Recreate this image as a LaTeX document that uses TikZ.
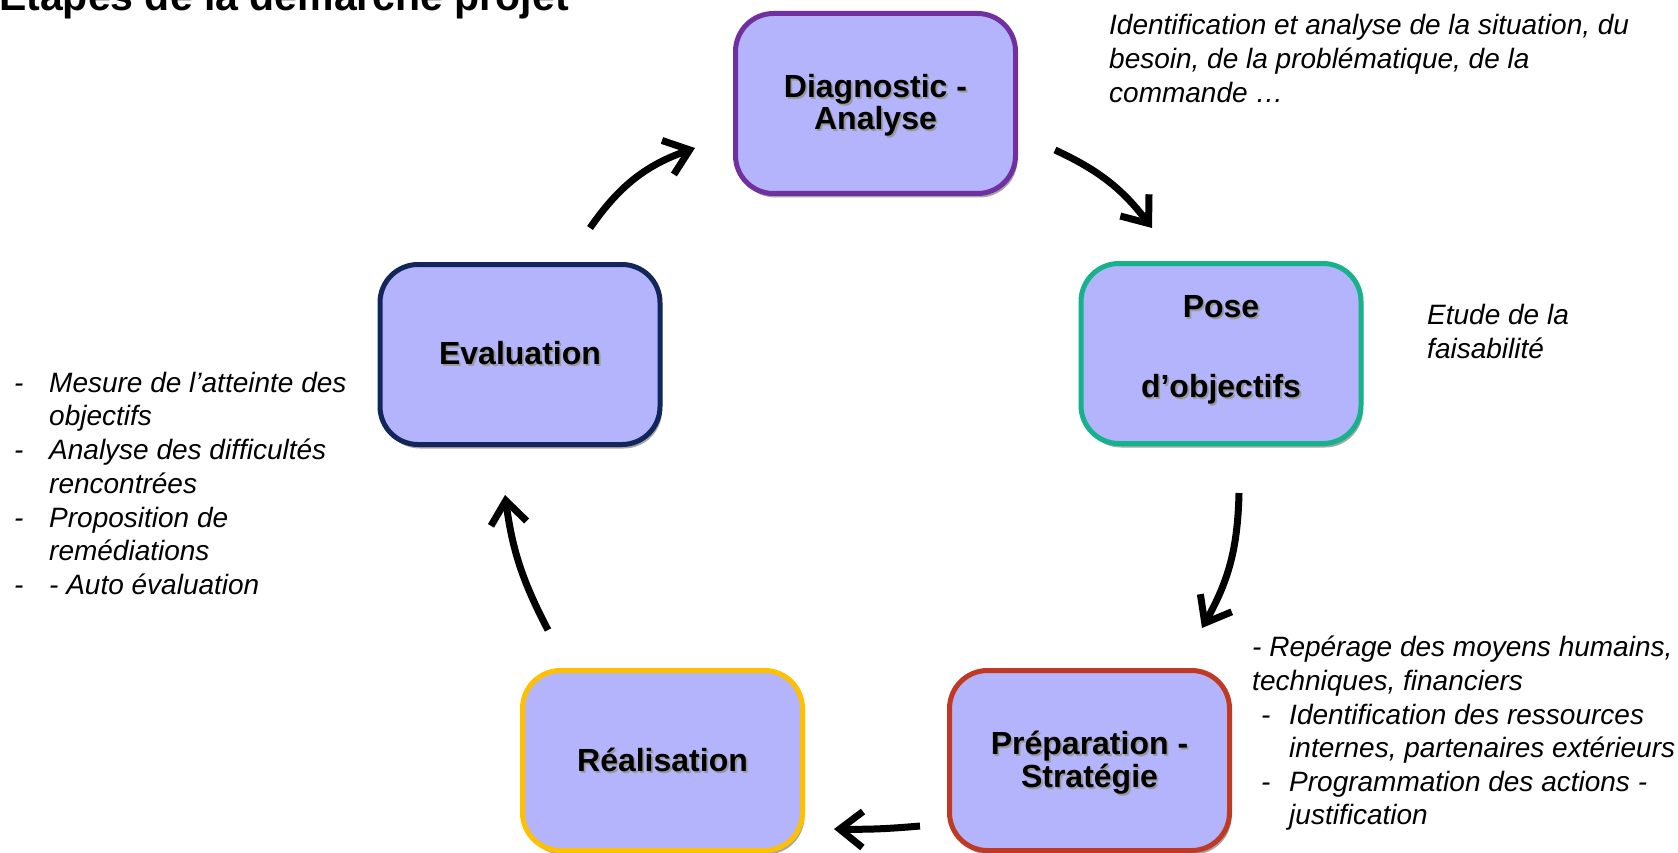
\documentclass[tikz,border=0pt]{standalone}
\usepackage{fontspec}
\setmainfont{Liberation Sans}
\usetikzlibrary{arrows.meta,shadows}
\definecolor{boxfill}{RGB}{180,180,252}
\definecolor{cdiag}{RGB}{112,48,160}
\definecolor{cpose}{RGB}{22,178,140}
\definecolor{ceval}{RGB}{18,38,92}
\definecolor{creal}{RGB}{255,192,0}
\definecolor{cprep}{RGB}{192,57,34}
\newcommand\shtxt[1]{\leavevmode\rlap{\kern1.8pt\raisebox{-2pt}{\textcolor{black!40}{#1}}}#1}
\begin{document}
\begin{tikzpicture}[x=1pt,y=-1pt,
  stepbox/.style={rectangle, rounded corners=38pt, fill=boxfill, line width=5pt,
    minimum width=280pt, minimum height=180pt, inner sep=0pt,
    drop shadow={shadow xshift=2pt, shadow yshift=-4pt, opacity=0.35, fill=black}},
  boxlbl/.style={font=\fontsize{32}{32}\selectfont\bfseries, align=center, inner sep=0pt},
  note/.style={font=\fontsize{28}{34}\selectfont\itshape, anchor=base west, inner sep=0pt},
  titl/.style={font=\fontsize{41}{41}\selectfont\bfseries, anchor=base west, inner sep=0pt},
  cyc/.style={line width=7pt, -{Straight Barb[length=23pt,width=36pt]}},
]
\useasboundingbox (0,0) rectangle (1678,853);
\fill[white] (0,0) rectangle (1678,853);

% title
\node[titl] (title) at (-1,11) {Etapes de la démarche projet};

% boxes
\node[stepbox, draw=cdiag] (diag) at (875.5,103.5) {};
\node[stepbox, draw=cpose] (pose) at (1221,353.5) {};
\node[stepbox, draw=ceval] (eval) at (520,354.5) {};
\node[stepbox, draw=creal] (real) at (662.5,760.5) {};
\node[stepbox, draw=cprep] (prep) at (1089.5,760.5) {};

% box labels
\node[boxlbl] (ldiag) at ([yshift=-3pt]diag.center) {\shtxt{Diagnostic -}\\\shtxt{Analyse}};
\node[boxlbl] (lpose) at ([yshift=3pt]pose.center) {\shtxt{Pose}\\[48pt]\shtxt{d’objectifs}};
\node[boxlbl] (leval) at (eval.center) {\shtxt{Evaluation}};
\node[boxlbl] (lreal) at (real.center) {\shtxt{Réalisation}};
\node[boxlbl] (lprep) at ([yshift=-3pt]prep.center) {\shtxt{Préparation -}\\\shtxt{Stratégie}};

% notes top right
\node[note] (n1a) at (1109,35) {Identification et analyse de la situation, du};
\node[note] (n1b) at (1109,69) {besoin, de la problématique, de la};
\node[note] (n1c) at (1109,103) {commande …};

% note pose
\node[note] (n2a) at (1427,324) {Etude de la};
\node[note] (n2b) at (1427,358) {faisabilité};

% notes left
\node[note] (d3a) at (14,392) {-};
\node[note] (n3a) at (49,392) {Mesure de l’atteinte des};
\node[note] (n3b) at (49,425.5) {objectifs};
\node[note] (d3c) at (14,459.5) {-};
\node[note] (n3c) at (49,459.5) {Analyse des difficultés};
\node[note] (n3d) at (49,493) {rencontrées};
\node[note] (d3e) at (14,527) {-};
\node[note] (n3e) at (49,527) {Proposition de};
\node[note] (n3f) at (49,560.5) {remédiations};
\node[note] (d3g) at (14,594) {-};
\node[note] (n3g) at (49,594) {- Auto évaluation};

% notes bottom right
\node[note] (n4a) at (1252,656) {- Repérage des moyens humains,};
\node[note] (n4b) at (1252,690) {techniques, financiers};
\node[note] (d4c) at (1261,724) {-};
\node[note] (n4c) at (1289,724) {Identification des ressources};
\node[note] (n4d) at (1289,757) {internes, partenaires extérieurs};
\node[note] (d4e) at (1261,791) {-};
\node[note] (n4e) at (1289,791) {Programmation des actions -};
\node[note] (n4f) at (1289,824) {justification};

% cycle arrows
\coordinate (a1s) at (590,228);   \coordinate (a1e) at (695,148);
\coordinate (a2s) at (1055,150);  \coordinate (a2e) at (1152,228);
\coordinate (a3s) at (1239,493);  \coordinate (a3e) at (1202,628);
\coordinate (a4s) at (920,826);   \coordinate (a4e) at (834,829);
\coordinate (a5s) at (548,630);   \coordinate (a5e) at (505,495);
\draw[cyc] (a1s) to[bend left=18] (a1e);
\draw[cyc] (a2s) to[bend left=14] (a2e);
\draw[cyc] (a3s) to[bend left=14] (a3e);
\draw[cyc] (a4s) to[bend left=3] (a4e);
\draw[cyc] (a5s) to[bend left=10] (a5e);
\end{tikzpicture}
\end{document}
